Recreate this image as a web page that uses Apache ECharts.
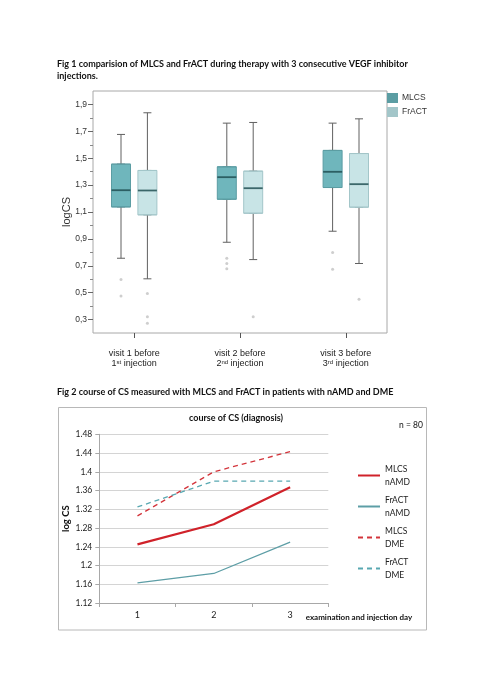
<!DOCTYPE html>
<html>
<head>
<meta charset="utf-8">
<script src="https://cdn.jsdelivr.net/npm/echarts@6/dist/echarts.min.js"></script>
<style>
  html, body { margin: 0; padding: 0; background: #fff; }
  #main { width: 481px; height: 680px; }
</style>
</head>
<body>
<div id="main"></div>
<script>
// Fig 1 - box plots, each row: [min, Q1, median, Q3, max]
const visitNo = ['1', '2', '3'];
const visitSup = ['st', 'nd', 'rd'];
const mlcsBox = [
  [0.756, 1.138, 1.262, 1.456, 1.677],
  [0.875, 1.195, 1.359, 1.436, 1.761],
  [0.957, 1.282, 1.399, 1.558, 1.761]
];
const fractBox = [
  [0.603, 1.079, 1.260, 1.409, 1.838],
  [0.746, 1.091, 1.277, 1.404, 1.766],
  [0.717, 1.136, 1.307, 1.535, 1.793]
];
// outliers: [visit index, logCS]
const mlcsOutliers = [[0, 0.598], [0, 0.476], [1, 0.756], [1, 0.717], [1, 0.677], [2, 0.799], [2, 0.675]];
const fractOutliers = [[0, 0.493], [0, 0.320], [0, 0.272], [1, 0.320], [2, 0.451]];
const logCsTicks = [0.3, 0.5, 0.7, 0.9, 1.1, 1.3, 1.5, 1.7, 1.9];
const logCsMinorTicks = [0.4, 0.6, 0.8, 1.0, 1.2, 1.4, 1.6, 1.8];

// Fig 2 - course of CS
const days = ['1', '2', '3'];
const mlcsNamd = [1.245, 1.288, 1.367];
const fractNamd = [1.163, 1.183, 1.250];
const mlcsDme = [1.306, 1.400, 1.443];
const fractDme = [1.325, 1.380, 1.380];

const spss = 'Liberation Sans, Arial, sans-serif';
const calibri = 'Lato, Open Sans, sans-serif';

const MLCS_FILL = '#6fb6bc';
const FRACT_FILL = '#c8e4e6';

function boxBody(rows) {
  return rows.map(b => [b[1], b[1], b[2], b[3], b[3]]);
}
function medians(rows) {
  return rows.map((b, i) => [i, b[2]]);
}

// hidden helper axes share the same logCS range
const hiddenY = grid => ({ type: 'value', gridIndex: grid, min: 0.2, max: 2.0, show: false });
const hiddenX = grid => ({ type: 'category', gridIndex: grid, data: visitNo, show: false });

function boxSeries(name, rows, outliers, fill, border, xw, xb, y) {
  return [
    {
      name: name + ' whisker', type: 'boxplot', xAxisIndex: xw, yAxisIndex: y,
      data: rows, boxWidth: [8, 8], silent: true,
      itemStyle: { color: 'rgba(0,0,0,0)', borderColor: '#606060', borderWidth: 1 }
    },
    {
      name: name, type: 'boxplot', xAxisIndex: xb, yAxisIndex: y,
      data: boxBody(rows), boxWidth: [19, 19], silent: true,
      itemStyle: { color: fill, borderColor: border, borderWidth: 1 }
    },
    {
      name: name + ' median', type: 'scatter', xAxisIndex: xw, yAxisIndex: y,
      data: medians(rows), symbol: 'rect', symbolSize: [19, 1.8], silent: true,
      itemStyle: { color: '#1f4d51' }
    },
    {
      name: name + ' outliers', type: 'scatter', xAxisIndex: xw, yAxisIndex: y,
      data: outliers, symbol: 'circle', symbolSize: 3, silent: true,
      itemStyle: { color: '#c2c2c2' }
    }
  ];
}

const chart = echarts.init(document.getElementById('main'));

const option = {
  animation: false,
  backgroundColor: '#fff',
  title: [
    {
      text: 'Fig 1 comparision of MLCS and FrACT during therapy with 3 consecutive VEGF inhibitor\ninjections.',
      left: 57, top: 58, padding: 0,
      textStyle: { fontFamily: calibri, fontSize: 9, fontWeight: 'bold', color: '#111', lineHeight: 12.3 }
    },
    {
      text: 'Fig 2 course of CS measured with MLCS and FrACT in patients with nAMD and DME',
      left: 57, top: 388, padding: 0,
      textStyle: { fontFamily: calibri, fontSize: 9, fontWeight: 'bold', color: '#111' }
    },
    {
      text: 'course of CS (diagnosis)',
      left: 189, top: 414, padding: 0,
      textStyle: { fontFamily: calibri, fontSize: 9, fontWeight: 'bold', color: '#111' }
    },
    {
      text: 'n = 80',
      left: 399, top: 421, padding: 0,
      textStyle: { fontFamily: calibri, fontSize: 8.5, fontWeight: 'normal', color: '#111' }
    }
  ],
  legend: [
    {
      data: [{ name: 'MLCS', icon: 'rect' }, { name: 'FrACT', icon: 'rect' }],
      orient: 'vertical', left: 387, top: 93, padding: 0,
      itemWidth: 9, itemHeight: 8, itemGap: 4, selectedMode: false,
      textStyle: { fontFamily: spss, fontSize: 8.5, color: '#333' }
    },
    {
      data: ['MLCS\nnAMD', 'FrACT\nnAMD', 'MLCS\nDME', 'FrACT\nDME'],
      orient: 'vertical', left: 357, top: 456, padding: 0,
      itemWidth: 22, itemHeight: 8, itemGap: -8, selectedMode: false,
      itemStyle: { opacity: 0 },
      textStyle: { fontFamily: calibri, fontSize: 8.5, color: '#222', lineHeight: 13, padding: [13, 0, 0, 0] }
    }
  ],
  grid: [
    { left: 93, right: 94, top: 91, bottom: 347, show: true, borderColor: '#a8a8a8', borderWidth: 1 },
    { left: 81.3, width: 317.4, top: 91, bottom: 347 },
    { left: 68.1, width: 317.4, top: 91, bottom: 347 },
    { left: 94.5, width: 317.4, top: 91, bottom: 347 },
    { left: 99.3, right: 152.7, top: 434.3, bottom: 77 }
  ],
  xAxis: [
    hiddenX(0),
    {
      type: 'category', gridIndex: 1, data: visitNo,
      axisLine: { show: false },
      axisTick: { show: true, alignWithLabel: true, length: 5, lineStyle: { color: '#555' } },
      axisLabel: {
        margin: 16, interval: 0,
        formatter: (v, i) => '{n|visit ' + v + ' before}\n{n|' + v + '}{s|' + visitSup[i] + '}{n| injection}',
        rich: {
          n: { fontFamily: spss, fontSize: 9, color: '#222', lineHeight: 10 },
          s: { fontFamily: spss, fontSize: 6, color: '#222', lineHeight: 10, padding: [0, 0, 4, 0] }
        }
      }
    },
    hiddenX(2), hiddenX(2), hiddenX(3), hiddenX(3),
    {
      type: 'category', gridIndex: 4, data: days, boundaryGap: true,
      axisLine: { lineStyle: { color: '#a8a8a8' } },
      axisTick: { show: true, length: 4, lineStyle: { color: '#a8a8a8' } },
      axisLabel: { margin: 8, fontFamily: calibri, fontSize: 9, color: '#222' },
      name: 'examination and injection day', nameLocation: 'end', nameGap: -22.6,
      nameTextStyle: {
        fontFamily: calibri, fontSize: 8, fontWeight: 'bold', color: '#111',
        align: 'left', verticalAlign: 'top', padding: [10, 0, 0, 0]
      }
    }
  ],
  yAxis: [
    {
      type: 'value', gridIndex: 0, min: 0.2, max: 2.0, position: 'left',
      name: 'logCS', nameLocation: 'middle', nameGap: 21, nameMoveOverlap: false,
      nameTextStyle: { fontFamily: spss, fontSize: 11, color: '#333' },
      axisLine: { show: false },
      axisTick: { show: true, length: 5, customValues: logCsTicks, lineStyle: { color: '#666' } },
      axisLabel: {
        customValues: logCsTicks, margin: 6,
        fontFamily: spss, fontSize: 8.5, color: '#333',
        formatter: v => v.toFixed(1).replace('.', ',')
      },
      splitLine: { show: false }
    },
    {
      type: 'value', gridIndex: 0, min: 0.2, max: 2.0, position: 'left', offset: 0,
      axisLine: { show: false },
      axisTick: { show: true, length: 3, customValues: logCsMinorTicks, lineStyle: { color: '#888' } },
      axisLabel: { show: false },
      splitLine: { show: false }
    },
    hiddenY(1), hiddenY(2), hiddenY(3),
    {
      type: 'value', gridIndex: 4, min: 1.12, max: 1.48, interval: 0.04,
      axisLine: { show: true, lineStyle: { color: '#a8a8a8' } },
      axisTick: { show: true, length: 4, lineStyle: { color: '#a8a8a8' } },
      axisLabel: {
        margin: 7, fontFamily: calibri, fontSize: 8.5, color: '#222',
        formatter: v => String(parseFloat(v.toFixed(2)))
      },
      splitLine: { lineStyle: { color: '#d4d4d4' } },
      name: 'log CS', nameLocation: 'middle', nameGap: 28, nameMoveOverlap: false,
      nameTextStyle: { fontFamily: calibri, fontSize: 9.5, fontWeight: 'bold', color: '#111' }
    }
  ],
  series: [
    ...boxSeries('MLCS', mlcsBox, mlcsOutliers, MLCS_FILL, '#5b9da3', 2, 3, 3),
    ...boxSeries('FrACT', fractBox, fractOutliers, FRACT_FILL, '#a3c6c9', 4, 5, 4),
    {
      name: 'MLCS\nnAMD', type: 'line', xAxisIndex: 6, yAxisIndex: 5, data: mlcsNamd,
      symbol: 'none', color: '#d0222a', lineStyle: { width: 2.2 }
    },
    {
      name: 'FrACT\nnAMD', type: 'line', xAxisIndex: 6, yAxisIndex: 5, data: fractNamd,
      symbol: 'none', color: '#5d9ea6', lineStyle: { width: 1.3 }
    },
    {
      name: 'MLCS\nDME', type: 'line', xAxisIndex: 6, yAxisIndex: 5, data: mlcsDme,
      symbol: 'none', color: '#d3343b', lineStyle: { width: 1.3, type: [5, 4] }
    },
    {
      name: 'FrACT\nDME', type: 'line', xAxisIndex: 6, yAxisIndex: 5, data: fractDme,
      symbol: 'none', color: '#58a8b1', lineStyle: { width: 1.3, type: [5, 4] }
    }
  ],
  graphic: [
    {
      type: 'rect', silent: true,
      shape: { x: 58.5, y: 407.5, width: 368, height: 222.5 },
      style: { fill: 'none', stroke: '#b8b8b8', lineWidth: 1 }
    }
  ]
};

chart.setOption(option);
</script>
</body>
</html>
